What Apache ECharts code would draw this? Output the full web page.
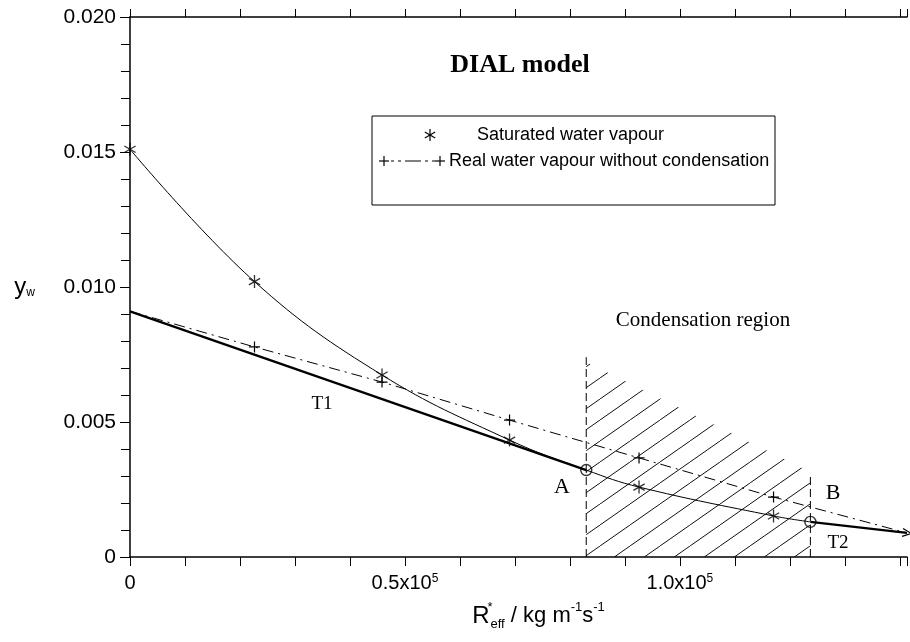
<!DOCTYPE html>
<html>
<head>
<meta charset="utf-8">
<script src="https://cdn.jsdelivr.net/npm/echarts@6/dist/echarts.min.js"></script>
<style>
  html, body { margin: 0; padding: 0; background: #fff; }
  #chart { width: 910px; height: 642px; }
</style>
</head>
<body>
<div id="chart"></div>
<script>
// saturated water vapour (stars on the thin curve)
var satX = [0, 22640, 45830, 69020, 92570, 117030];
var satY = [0.0151, 0.0102, 0.00674, 0.00433, 0.00259, 0.00152];

// tangent points A and B
var pointA = [82970, 0.00322];
var pointB = [123730, 0.0013];

// real water vapour without condensation (dash-dot line, + marks)
var realX = [0, 22640, 45830, 69020, 92570, 117030, 141300];
var realY = [0.0091, 0.00778, 0.00648, 0.00507, 0.00367, 0.00222, 0.00089];

// tangents T1 and T2
var t1X = [0, 82970];
var t1Y = [0.0091, 0.00322];
var t2X = [123730, 141300];
var t2Y = [0.0013, 0.00089];

// condensation region (hatched) and its dashed borders
var hatchX = [82970, 123730];
var hatchTop = [0.00722, 0.00315];
var borderA = [0.0074];
var borderB = [0.0031];

var xMax = 141300;

var starPath = 'path://M5,0L5,10M0.67,2.5L9.33,7.5M0.67,7.5L9.33,2.5';
var plusPath = 'path://M5,0L5,10M0,5L10,5';
var arrowPath = 'path://M0,0L10,5L0,10';

var pairs = function(xs, ys) {
   var out = [];
   for (var i = 0; i < xs.length; i++) {
      out.push([xs[i], ys[i]]);
   }
   return out;
};

// curve goes through the stars and through A and B
var curveData = pairs(satX, satY).concat([pointA, pointB]);
curveData.sort(function(a, b) { return a[0] - b[0]; });

var realData = pairs(realX, realY).map(function(p, i) {
   if (i === 0 || i === realX.length - 1) {
      return { value: p, symbol: 'none' };
   }
   return p;
});

var t2Data = pairs(t2X, t2Y).map(function(p, i) {
   if (i === t2X.length - 1) {
      return { value: p, symbol: arrowPath, symbolSize: [9, 8], symbolRotate: -7 };
   }
   return { value: p, symbol: 'none' };
});

// diagonal hatch pattern
var makeHatch = function() {
   var w = 30, h = 21;
   var c = document.createElement('canvas');
   c.width = w;
   c.height = h;
   var ctx = c.getContext('2d');
   ctx.strokeStyle = '#111';
   ctx.lineWidth = 1;
   for (var k = -1; k <= 1; k++) {
      ctx.beginPath();
      ctx.moveTo(k * w, h);
      ctx.lineTo(k * w + w, 0);
      ctx.stroke();
   }
   return c;
};

var black = '#000';
var sans = '"Liberation Sans", Arial, sans-serif';
var serif = '"Liberation Serif", "Times New Roman", serif';

var xLabel = function(v) {
   if (v === 0) return '0';
   if (v === 50000) return '{a|0.5x10}{s|5}';
   if (v === 100000) return '{a|1.0x10}{s|5}';
   return '';
};

var legendLine = function(x1, y1, x2, y2, w, dash) {
   var st = { stroke: black, lineWidth: w };
   if (dash) st.lineDash = dash;
   return { type: 'line', z: 11, shape: { x1: x1, y1: y1, x2: x2, y2: y2 }, style: st };
};

var chart = echarts.init(document.getElementById('chart'));

var option = {
   animation: false,
   backgroundColor: '#fff',
   grid: { left: 130, right: 0, top: 17, bottom: 85 },
   xAxis: [{
      type: 'value',
      min: 0,
      max: xMax,
      interval: 10000,
      position: 'bottom',
      name: '{r|R}{sup|*}{sub|eff}{t| / kg m}{sup2|-1}{t|s}{sup2|-1}',
      nameLocation: 'middle',
      nameGap: 44,
      nameTextStyle: {
         padding: [0, 0, 0, 40],
         rich: {
            r: { fontFamily: sans, fontSize: 24, color: black, lineHeight: 30 },
            sup: { fontFamily: sans, fontSize: 13, color: black, verticalAlign: 'top', width: 1 },
            sup2: { fontFamily: sans, fontSize: 13, color: black, verticalAlign: 'top' },
            sub: { fontFamily: sans, fontSize: 13, color: black, verticalAlign: 'bottom' },
            t: { fontFamily: sans, fontSize: 22, color: black }
         }
      },
      axisLine: { lineStyle: { color: black, width: 1.5 } },
      axisTick: { length: 9, lineStyle: { color: black } },
      splitLine: { show: false },
      axisLabel: {
         margin: 16,
         formatter: xLabel,
         fontFamily: sans,
         fontSize: 20,
         color: black,
         rich: {
            a: { fontFamily: sans, fontSize: 20, color: black },
            s: { fontFamily: sans, fontSize: 12, color: black, verticalAlign: 'top' }
         }
      }
   }, {
      type: 'value',
      min: 0,
      max: xMax,
      interval: 10000,
      position: 'top',
      axisLine: { lineStyle: { color: black, width: 1.5 } },
      axisTick: { length: 8, lineStyle: { color: black } },
      axisLabel: { show: false },
      splitLine: { show: false }
   }],
   yAxis: {
      type: 'value',
      min: 0,
      max: 0.02,
      interval: 0.005,
      name: '{y|y}{w|w}',
      nameLocation: 'middle',
      nameRotate: 0,
      nameGap: 95,
      nameTextStyle: {
         rich: {
            y: { fontFamily: sans, fontSize: 24, color: black },
            w: { fontFamily: sans, fontSize: 12, color: black, verticalAlign: 'bottom' }
         }
      },
      axisLine: { show: true, lineStyle: { color: black, width: 1.5 } },
      axisTick: { show: true, length: 10, lineStyle: { color: black } },
      minorTick: { show: true, splitNumber: 5, length: 9, lineStyle: { color: black } },
      splitLine: { show: false },
      axisLabel: {
         margin: 14,
         fontFamily: sans,
         fontSize: 21,
         color: black,
         formatter: function(v) { return v === 0 ? '0' : v.toFixed(3); }
      }
   },
   series: [{
      name: 'Condensation region',
      type: 'line',
      data: pairs(hatchX, hatchTop),
      symbol: 'none',
      lineStyle: { width: 0 },
      areaStyle: { color: { image: makeHatch(), repeat: 'repeat' }, opacity: 1 },
      z: 1
   }, {
      name: 'Border A',
      type: 'line',
      data: [[pointA[0], 0], [pointA[0], borderA[0]]],
      symbol: 'none',
      lineStyle: { color: black, width: 1, type: [8, 4] },
      z: 2
   }, {
      name: 'Border B',
      type: 'line',
      data: [[pointB[0], 0], [pointB[0], borderB[0]]],
      symbol: 'none',
      lineStyle: { color: black, width: 1, type: [8, 4] },
      z: 2
   }, {
      name: 'Saturation curve',
      type: 'line',
      data: curveData,
      smooth: 0.4,
      symbol: 'none',
      lineStyle: { color: black, width: 1 },
      z: 3
   }, {
      name: 'Real water vapour without condensation',
      type: 'line',
      data: realData,
      symbol: plusPath,
      symbolSize: 11,
      symbolKeepAspect: true,
      itemStyle: { color: 'none', borderColor: black, borderWidth: 1.2 },
      lineStyle: { color: black, width: 1, type: [11, 5, 2, 5] },
      z: 3
   }, {
      name: 'T1',
      type: 'line',
      data: pairs(t1X, t1Y),
      symbol: 'none',
      lineStyle: { color: black, width: 2.3 },
      z: 4
   }, {
      name: 'T2',
      type: 'line',
      data: t2Data,
      symbolKeepAspect: true,
      itemStyle: { color: 'none', borderColor: black, borderWidth: 1.2 },
      lineStyle: { color: black, width: 2.3 },
      z: 4
   }, {
      name: 'Saturated water vapour',
      type: 'scatter',
      data: pairs(satX, satY),
      symbol: starPath,
      symbolSize: 13,
      symbolKeepAspect: true,
      itemStyle: { color: 'none', borderColor: black, borderWidth: 1.3 },
      z: 5
   }, {
      name: 'A and B',
      type: 'scatter',
      data: [pointA, pointB],
      symbol: 'circle',
      symbolSize: 11,
      itemStyle: { color: 'none', borderColor: black, borderWidth: 1.4 },
      z: 6
   }],
   graphic: [{
      type: 'text', x: 520, y: 65, z: 10,
      style: { text: 'DIAL model', font: 'bold 26px ' + serif, fill: black, align: 'center', verticalAlign: 'middle' }
   }, {
      type: 'text', x: 703, y: 320, z: 10,
      style: { text: 'Condensation region', font: '21px ' + serif, fill: black, align: 'center', verticalAlign: 'middle' }
   }, {
      type: 'text', x: 322, y: 404, z: 10,
      style: { text: 'T1', font: '19px ' + serif, fill: black, align: 'center', verticalAlign: 'middle' }
   }, {
      type: 'text', x: 562, y: 487, z: 10,
      style: { text: 'A', font: '22px ' + serif, fill: black, align: 'center', verticalAlign: 'middle' }
   }, {
      type: 'text', x: 833, y: 493, z: 10,
      style: { text: 'B', font: '22px ' + serif, fill: black, align: 'center', verticalAlign: 'middle' }
   }, {
      type: 'text', x: 838, y: 543, z: 10,
      style: { text: 'T2', font: '19px ' + serif, fill: black, align: 'center', verticalAlign: 'middle' }
   }, {
      // legend box
      type: 'rect', z: 10,
      shape: { x: 372, y: 116, width: 403, height: 89 },
      style: { fill: '#fff', stroke: black, lineWidth: 1 }
   }, {
      type: 'text', x: 477, y: 135, z: 11,
      style: { text: 'Saturated water vapour', font: '18px ' + sans, fill: black, align: 'left', verticalAlign: 'middle' }
   }, {
      type: 'text', x: 449, y: 161, z: 11,
      style: { text: 'Real water vapour without condensation', font: '18px ' + sans, fill: black, align: 'left', verticalAlign: 'middle' }
   },
      // legend marks: asterisk, then + - - — +
      legendLine(430, 129, 430, 141, 1.2),
      legendLine(424.8, 132, 435.2, 138, 1.2),
      legendLine(424.8, 138, 435.2, 132, 1.2),
      legendLine(379, 161, 389, 161, 1.2),
      legendLine(384, 156, 384, 166, 1.2),
      legendLine(391, 161, 435, 161, 1, [3, 4, 3, 4, 16, 4]),
      legendLine(435, 161, 445, 161, 1.2),
      legendLine(440, 156, 440, 166, 1.2)
   ]
};

chart.setOption(option);
</script>
</body>
</html>
